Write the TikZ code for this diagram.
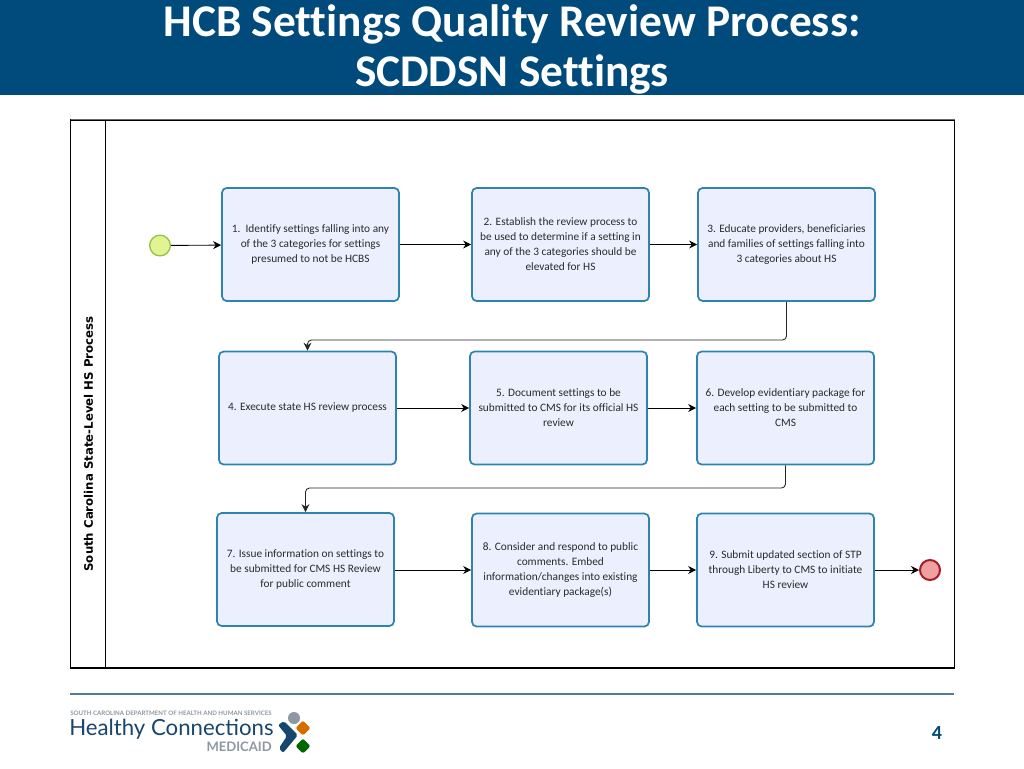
\documentclass[tikz,border=0pt]{standalone}
\usepackage{fontspec}
\setmainfont{Carlito}[Ligatures=NoCommon]
\newfontfamily\lanefont{DejaVu Sans}
\newfontfamily\logofont{Lato}
\usetikzlibrary{arrows.meta}
\definecolor{banner}{HTML}{004B7C}
\definecolor{boxline}{HTML}{2E84AE}
\definecolor{boxfill}{HTML}{ECEFFD}
\definecolor{textc}{HTML}{2B2B2B}
\definecolor{footrule}{HTML}{4F7F99}
\definecolor{logoblue}{HTML}{17466F}
\definecolor{logogray}{HTML}{8F97A3}
\tikzset{
 taskbox/.style={draw=boxline,fill=boxfill,line width=1.3pt,rounded corners=3.5pt,
   minimum width=132.75pt,minimum height=84.75pt,align=center,
   font=\fontsize{8.5}{11.25}\selectfont,text=textc,inner sep=0pt},
 flow/.style={draw=black,line width=0.65pt,-{Stealth[length=6pt,width=6pt]}},
 elbowflow/.style={flow,draw=black!85,rounded corners=3pt},
}
\begin{document}
\begin{tikzpicture}[x=0.75pt,y=-0.75pt]
\useasboundingbox (0,0) rectangle (1024,768);
\fill[white] (0,0) rectangle (1024,768);
\fill[banner] (0,0) rectangle (1024,95);
\node[text=white,font=\fontsize{34}{37.5}\selectfont\bfseries,align=center,inner sep=0pt] (title) at (512,49.5)
 {HCB Settings Quality Review Process:\\SCDDSN Settings};
% pool
\draw[black,line width=1.1pt] (70.5,120) rectangle (954.5,668);
\draw[black!60,line width=0.8pt] (70.5,119.5) -- (954.5,119.5);
\draw[black,line width=0.7pt] (105,120) -- (105,668);
\node[rotate=90,font=\lanefont\fontsize{8.8}{10}\selectfont\bfseries,inner sep=0pt] (lane) at (88.5,444) {South Carolina State-Level HS Process};
% tasks
\node[taskbox] (b1) at (310.5,244.5) {1.\ \ Identify settings falling into any\\of the 3 categories for settings\\presumed to not be HCBS};
\node[taskbox] (b2) at (560.5,244.5) {2. Establish the review process to\\be used to determine if a setting in\\any of the 3 categories should be\\elevated for HS};
\node[taskbox] (b3) at (786.5,244.5) {3. Educate providers, beneficiaries\\and families of settings falling into\\3 categories about HS};
\node[taskbox] (b4) at (307.5,408) {4. Execute state HS review process};
\node[taskbox] (b5) at (558.5,408) {5. Document settings to be\\submitted to CMS for its official HS\\review};
\node[taskbox] (b6) at (785.5,408) {6. Develop evidentiary package for\\each setting to be submitted to\\CMS};
\node[taskbox] (b7) at (305.5,569.5) {7. Issue information on settings to\\be submitted for CMS HS Review\\for public comment};
\node[taskbox] (b8) at (560.5,570) {8. Consider and respond to public\\comments. Embed\\information/changes into existing\\evidentiary package(s)};
\node[taskbox] (b9) at (785.5,570) {9. Submit updated section of STP\\through Liberty to CMS to initiate\\HS review};
% events
\node[circle,draw={rgb,255:red,150;green,195;blue,60},fill={rgb,255:red,226;green,243;blue,150},line width=1pt,minimum size=15.5pt,inner sep=0pt] (start) at (160,245.5) {};
\node[circle,draw={rgb,255:red,168;green,28;blue,42},fill={rgb,255:red,240;green,160;blue,160},line width=1.5pt,minimum size=15pt,inner sep=0pt] (end) at (930,570) {};
% connectors
\coordinate (c34) at (786.5,340);
\coordinate (c67) at (785.5,488);
\draw[flow] (start) -- (b1);
\draw[flow] (b1) -- (b2);
\draw[flow] (b2) -- (b3);
\draw[elbowflow] (b3.south) -- (c34) -- (c34 -| b4.north) -- (b4.north);
\draw[flow] (b4) -- (b5);
\draw[flow] (b5) -- (b6);
\draw[elbowflow] (b6.south) -- (c67) -- (c67 -| b7.north) -- (b7.north);
\draw[flow] (b7.east |- b8) -- (b8);
\draw[flow] (b8) -- (b9);
\draw[flow] (b9) -- (end);
% footer
\draw[footrule,line width=1.5pt] (70,693.5) -- (954,693.5);
\node[anchor=west,text=logogray,font=\logofont\fontsize{4.6}{5}\selectfont\bfseries,inner sep=0pt] (dept) at (70,713.5) {SOUTH CAROLINA DEPARTMENT OF HEALTH AND HUMAN SERVICES};
\node[anchor=west,text=logoblue,font=\logofont\fontsize{16.65}{20}\selectfont,inner sep=0pt] (hc) at (69,729) {Healthy Connections};
\node[anchor=east,text=logogray,font=\logofont\fontsize{9.8}{10}\selectfont\bfseries,inner sep=0pt] (med) at (272,747) {MEDICAID};
\fill[logogray] (294,718) circle (6);
\fill[logoblue,rounded corners=1.5pt] (278,725) -- (284,721) -- (298,735) -- (283,753) -- (279,748) -- (287,736) -- cycle;
\fill[orange!85!black,rounded corners=1.5pt] (303,720.5) -- (310.5,728) -- (303,735.5) -- (295.5,728) -- cycle;
\fill[green!40!black,rounded corners=1.5pt] (303,738.5) -- (310.5,746) -- (303,753.5) -- (295.5,746) -- cycle;
\node[text=banner,font=\fontsize{15}{16}\selectfont\bfseries,inner sep=0pt] (page) at (937,733) {4};
\end{tikzpicture}
\end{document}
